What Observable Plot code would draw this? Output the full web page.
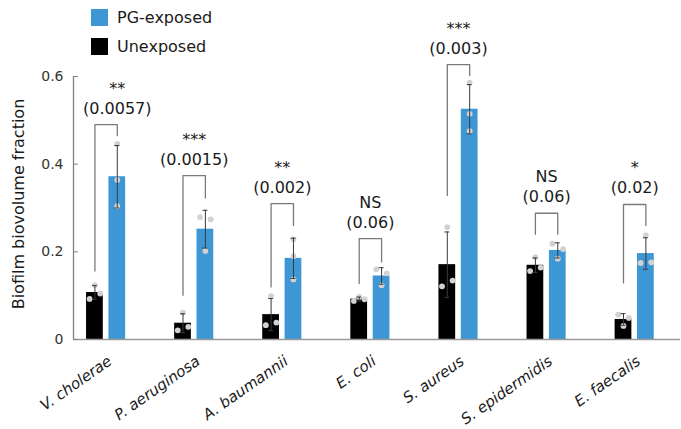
<!DOCTYPE html>
<html>
<head>
<meta charset="utf-8">
<script src="https://cdn.jsdelivr.net/npm/d3@7"></script>
<script src="https://cdn.jsdelivr.net/npm/@observablehq/plot@0.6"></script>
<style>
  body { margin: 0; background: #fff; font-family: "DejaVu Sans", sans-serif; }
  #chart { position: relative; width: 681px; height: 429px; }
  .legend { position: absolute; left: 91px; top: 3px; font-size: 16px; color: #1a1a1a; }
  .legend .row { display: flex; align-items: center; height: 29px; }
  .legend .swatch { width: 17px; height: 17px; margin-right: 9px; }
</style>
</head>
<body>
<div id="chart"></div>
<script>
// Species along the x axis and the two conditions compared for each
const species = ["V. cholerae", "P. aeruginosa", "A. baumannii", "E. coli", "S. aureus", "S. epidermidis", "E. faecalis"];
const conditions = ["Unexposed", "PG-exposed"];

// Biofilm biovolume fraction, three replicates per species and condition
const unexposed = [
  [0.124, 0.0925, 0.105],
  [0.0615, 0.021, 0.029],
  [0.099, 0.0326, 0.0387],
  [0.088, 0.097, 0.0918],
  [0.2565, 0.1214, 0.1344],
  [0.188, 0.156, 0.164],
  [0.0569, 0.0492, 0.031]
];
const exposed = [
  [0.446, 0.364, 0.304],
  [0.279, 0.274, 0.202],
  [0.2285, 0.19, 0.137],
  [0.160, 0.151, 0.1237],
  [0.586, 0.5148, 0.4752],
  [0.2187, 0.2064, 0.1845],
  [0.2376, 0.1745, 0.176]
];

// Significance and P values of each comparison
const stars = ["**", "***", "**", "NS", "***", "NS", "*"];
const pValues = [0.0057, 0.0015, 0.002, 0.06, 0.003, 0.06, 0.02];

// Comparison brackets: height of the bar and ends of the left/right legs
const bracketTop = [0.49, 0.374, 0.31, 0.23, 0.627, 0.288, 0.308];
const bracketLeftEnd = [0.156, 0.101, 0.12, 0.1275, 0.3287, 0.24, 0.129];
const bracketRightEnd = [0.465, 0.323, 0.26, 0.177, 0.602, 0.24, 0.26];

const yTicks = [0, 0.2, 0.4, 0.6];

const colors = {"Unexposed": "#000000", "PG-exposed": "#3e97d5"};

// Layout constants in x units (one unit per species)
const xDomain = [-0.37, 6.52];
const pairOffset = 0.127;   // bar centre distance from the group centre
const halfBar = 0.095;      // half bar width
const spread = 0.06;        // sideways step for overlapping replicate dots
const capHalf = 0.028;      // half width of error-bar caps
const closeGap = 0.016;     // replicates closer than this get spread apart

// Replicates that lie close together are spread left/right in listed order
function slots(vals) {
  const close = vals.map((v, j) => vals.some((w, k) => k !== j && Math.abs(v - w) < closeGap));
  const idx = vals.map((v, j) => j).filter(j => close[j]);
  const out = vals.map(() => 0);
  if (idx.length === 2) { out[idx[0]] = -1; out[idx[1]] = 1; }
  if (idx.length === 3) { out[idx[0]] = -1; out[idx[1]] = 0; out[idx[2]] = 1; }
  return out;
}

const bars = [], dots = [], caps = [];
species.forEach((s, i) => {
  [unexposed[i], exposed[i]].forEach((vals, k) => {
    const x = i + (k === 0 ? -pairOffset : pairOffset);
    const m = d3.mean(vals), e = d3.deviation(vals);
    bars.push({species: s, condition: conditions[k], x, mean: m, lo: m - e, hi: m + e});
    caps.push({x, y: m - e}, {x, y: m + e});
    slots(vals).forEach((slot, j) => dots.push({x: x + slot * spread, y: vals[j]}));
  });
});

const brackets = species.flatMap((s, i) => [
  {species: s, x: i - pairOffset, y: bracketLeftEnd[i]},
  {species: s, x: i - pairOffset, y: bracketTop[i]},
  {species: s, x: i + pairOffset, y: bracketTop[i]},
  {species: s, x: i + pairOffset, y: bracketRightEnd[i]}
]);

// The first annotation sits over its exposed bar to stay clear of the y axis
const notes = species.map((s, i) => ({
  x: i === 0 ? i + pairOffset : i,
  y: bracketTop[i],
  text: `${stars[i]}\n(${pValues[i]})`
}));

const chart = Plot.plot({
  width: 681,
  height: 429,
  marginLeft: 73,
  marginRight: 1,
  marginTop: 76,
  marginBottom: 90,
  style: {fontFamily: "DejaVu Sans, sans-serif", fontSize: "14px", background: "#fff", overflow: "visible"},
  x: {domain: xDomain, axis: null},
  y: {domain: [0, 0.6], axis: null},
  marks: [
    Plot.rectY(bars, {x1: d => d.x - halfBar, x2: d => d.x + halfBar, y1: 0, y2: "mean", fill: d => colors[d.condition]}),
    Plot.dot(dots, {x: "x", y: "y", r: 2.9, fill: "#d2d2d2"}),
    Plot.ruleX(bars, {x: "x", y1: "lo", y2: "hi", stroke: "#3a3a3a", strokeWidth: 1}),
    Plot.ruleY(caps, {y: "y", x1: d => d.x - capHalf, x2: d => d.x + capHalf, stroke: "#3a3a3a", strokeWidth: 1}),
    Plot.line(brackets, {x: "x", y: "y", z: "species", stroke: "#7a7a7a", strokeWidth: 1.3}),
    Plot.text(notes, {x: "x", y: "y", text: "text", lineAnchor: "bottom", lineHeight: 1.25, dy: -11, fontSize: 16, fill: "#1a1a1a"}),
    // axes
    Plot.ruleX([xDomain[0]], {y1: 0, y2: 0.6, stroke: "#808080", strokeWidth: 1.3}),
    Plot.ruleY([0], {stroke: "#9a9a9a", strokeWidth: 1.3}),
    Plot.axisY(yTicks, {tickSize: 5, dx: 5, tickFormat: () => "", stroke: "#808080", label: null}),
    Plot.axisY(yTicks, {tickSize: 0, tickPadding: 10, tickFormat: d => String(d), fontSize: 14, fill: "#333", label: null}),
    Plot.text(["Biofilm biovolume fraction"], {frameAnchor: "left", textAnchor: "middle", rotate: -90, dx: -55, dy: -4, fontSize: 16, fill: "#1a1a1a"}),
    Plot.text(species, {x: (d, i) => i, frameAnchor: "bottom", rotate: -35, textAnchor: "end", lineAnchor: "middle", dx: 4, dy: 20, fontSize: 15, fontStyle: "italic", fill: "#1a1a1a"})
  ]
});

const root = document.getElementById("chart");
root.appendChild(chart);

// Legend
const legend = document.createElement("div");
legend.className = "legend";
for (const c of ["PG-exposed", "Unexposed"]) {
  const row = document.createElement("div");
  row.className = "row";
  const sw = document.createElement("span");
  sw.className = "swatch";
  sw.style.background = colors[c];
  const label = document.createElement("span");
  label.textContent = c;
  row.append(sw, label);
  legend.appendChild(row);
}
root.appendChild(legend);
</script>
</body>
</html>
